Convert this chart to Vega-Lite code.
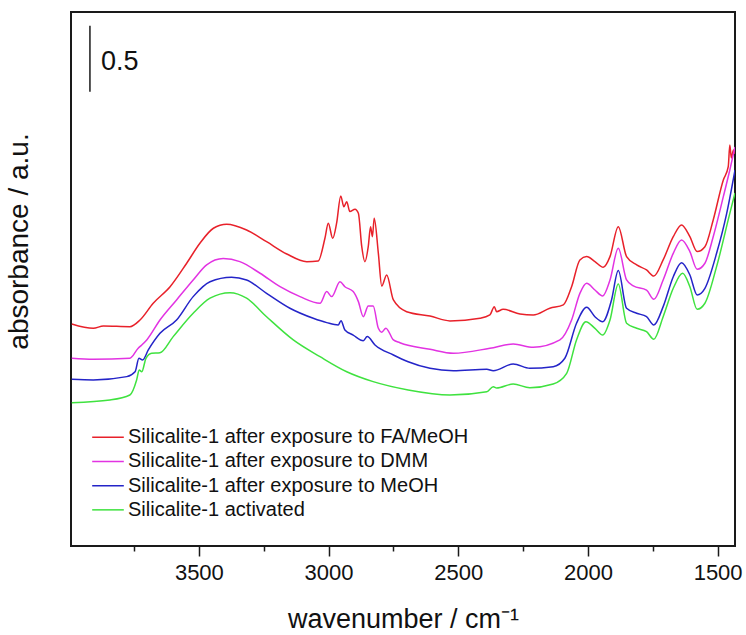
{
  "$schema": "https://vega.github.io/schema/vega-lite/v6.json",
  "width": 664,
  "height": 534,
  "autosize": {"type": "none"},
  "padding": {"left": 71, "top": 12, "right": 11, "bottom": 89},
  "background": "white",
  "config": {
    "view": {"stroke": "#1a1a1a", "strokeWidth": 2},
    "font": "Liberation Sans"
  },
  "datasets": {
    "spectra": [
      {"sample": "Silicalite-1 after exposure to FA/MeOH", "wavenumber": 3990, "absorbance": 1.682},
      {"sample": "Silicalite-1 after exposure to FA/MeOH", "wavenumber": 3907, "absorbance": 1.649},
      {"sample": "Silicalite-1 after exposure to FA/MeOH", "wavenumber": 3868, "absorbance": 1.667},
      {"sample": "Silicalite-1 after exposure to FA/MeOH", "wavenumber": 3766, "absorbance": 1.661},
      {"sample": "Silicalite-1 after exposure to FA/MeOH", "wavenumber": 3727, "absorbance": 1.712},
      {"sample": "Silicalite-1 after exposure to FA/MeOH", "wavenumber": 3676, "absorbance": 1.839},
      {"sample": "Silicalite-1 after exposure to FA/MeOH", "wavenumber": 3611, "absorbance": 1.964},
      {"sample": "Silicalite-1 after exposure to FA/MeOH", "wavenumber": 3547, "absorbance": 2.142},
      {"sample": "Silicalite-1 after exposure to FA/MeOH", "wavenumber": 3496, "absorbance": 2.293},
      {"sample": "Silicalite-1 after exposure to FA/MeOH", "wavenumber": 3444, "absorbance": 2.407},
      {"sample": "Silicalite-1 after exposure to FA/MeOH", "wavenumber": 3393, "absorbance": 2.437},
      {"sample": "Silicalite-1 after exposure to FA/MeOH", "wavenumber": 3316, "absorbance": 2.394},
      {"sample": "Silicalite-1 after exposure to FA/MeOH", "wavenumber": 3239, "absorbance": 2.305},
      {"sample": "Silicalite-1 after exposure to FA/MeOH", "wavenumber": 3161, "absorbance": 2.212},
      {"sample": "Silicalite-1 after exposure to FA/MeOH", "wavenumber": 3084, "absorbance": 2.154},
      {"sample": "Silicalite-1 after exposure to FA/MeOH", "wavenumber": 3040, "absorbance": 2.159},
      {"sample": "Silicalite-1 after exposure to FA/MeOH", "wavenumber": 3014, "absorbance": 2.331},
      {"sample": "Silicalite-1 after exposure to FA/MeOH", "wavenumber": 3001, "absorbance": 2.445},
      {"sample": "Silicalite-1 after exposure to FA/MeOH", "wavenumber": 2984, "absorbance": 2.331},
      {"sample": "Silicalite-1 after exposure to FA/MeOH", "wavenumber": 2969, "absorbance": 2.445},
      {"sample": "Silicalite-1 after exposure to FA/MeOH", "wavenumber": 2953, "absorbance": 2.652},
      {"sample": "Silicalite-1 after exposure to FA/MeOH", "wavenumber": 2941, "absorbance": 2.570},
      {"sample": "Silicalite-1 after exposure to FA/MeOH", "wavenumber": 2930, "absorbance": 2.608},
      {"sample": "Silicalite-1 after exposure to FA/MeOH", "wavenumber": 2918, "absorbance": 2.533},
      {"sample": "Silicalite-1 after exposure to FA/MeOH", "wavenumber": 2898, "absorbance": 2.551},
      {"sample": "Silicalite-1 after exposure to FA/MeOH", "wavenumber": 2885, "absorbance": 2.520},
      {"sample": "Silicalite-1 after exposure to FA/MeOH", "wavenumber": 2872, "absorbance": 2.267},
      {"sample": "Silicalite-1 after exposure to FA/MeOH", "wavenumber": 2860, "absorbance": 2.154},
      {"sample": "Silicalite-1 after exposure to FA/MeOH", "wavenumber": 2847, "absorbance": 2.267},
      {"sample": "Silicalite-1 after exposure to FA/MeOH", "wavenumber": 2838, "absorbance": 2.419},
      {"sample": "Silicalite-1 after exposure to FA/MeOH", "wavenumber": 2831, "absorbance": 2.343},
      {"sample": "Silicalite-1 after exposure to FA/MeOH", "wavenumber": 2824, "absorbance": 2.483},
      {"sample": "Silicalite-1 after exposure to FA/MeOH", "wavenumber": 2808, "absorbance": 2.217},
      {"sample": "Silicalite-1 after exposure to FA/MeOH", "wavenumber": 2795, "absorbance": 1.970},
      {"sample": "Silicalite-1 after exposure to FA/MeOH", "wavenumber": 2776, "absorbance": 2.053},
      {"sample": "Silicalite-1 after exposure to FA/MeOH", "wavenumber": 2750, "absorbance": 1.864},
      {"sample": "Silicalite-1 after exposure to FA/MeOH", "wavenumber": 2699, "absorbance": 1.775},
      {"sample": "Silicalite-1 after exposure to FA/MeOH", "wavenumber": 2609, "absorbance": 1.742},
      {"sample": "Silicalite-1 after exposure to FA/MeOH", "wavenumber": 2532, "absorbance": 1.705},
      {"sample": "Silicalite-1 after exposure to FA/MeOH", "wavenumber": 2416, "absorbance": 1.725},
      {"sample": "Silicalite-1 after exposure to FA/MeOH", "wavenumber": 2378, "absorbance": 1.750},
      {"sample": "Silicalite-1 after exposure to FA/MeOH", "wavenumber": 2361, "absorbance": 1.813},
      {"sample": "Silicalite-1 after exposure to FA/MeOH", "wavenumber": 2352, "absorbance": 1.775},
      {"sample": "Silicalite-1 after exposure to FA/MeOH", "wavenumber": 2327, "absorbance": 1.793},
      {"sample": "Silicalite-1 after exposure to FA/MeOH", "wavenumber": 2262, "absorbance": 1.758},
      {"sample": "Silicalite-1 after exposure to FA/MeOH", "wavenumber": 2211, "absorbance": 1.750},
      {"sample": "Silicalite-1 after exposure to FA/MeOH", "wavenumber": 2147, "absorbance": 1.801},
      {"sample": "Silicalite-1 after exposure to FA/MeOH", "wavenumber": 2095, "absorbance": 1.826},
      {"sample": "Silicalite-1 after exposure to FA/MeOH", "wavenumber": 2063, "absorbance": 1.964},
      {"sample": "Silicalite-1 after exposure to FA/MeOH", "wavenumber": 2031, "absorbance": 2.167},
      {"sample": "Silicalite-1 after exposure to FA/MeOH", "wavenumber": 2005, "absorbance": 2.192},
      {"sample": "Silicalite-1 after exposure to FA/MeOH", "wavenumber": 1973, "absorbance": 2.154},
      {"sample": "Silicalite-1 after exposure to FA/MeOH", "wavenumber": 1941, "absorbance": 2.111},
      {"sample": "Silicalite-1 after exposure to FA/MeOH", "wavenumber": 1915, "absorbance": 2.192},
      {"sample": "Silicalite-1 after exposure to FA/MeOH", "wavenumber": 1883, "absorbance": 2.419},
      {"sample": "Silicalite-1 after exposure to FA/MeOH", "wavenumber": 1851, "absorbance": 2.192},
      {"sample": "Silicalite-1 after exposure to FA/MeOH", "wavenumber": 1812, "absorbance": 2.129},
      {"sample": "Silicalite-1 after exposure to FA/MeOH", "wavenumber": 1774, "absorbance": 2.091},
      {"sample": "Silicalite-1 after exposure to FA/MeOH", "wavenumber": 1746, "absorbance": 2.045},
      {"sample": "Silicalite-1 after exposure to FA/MeOH", "wavenumber": 1710, "absorbance": 2.167},
      {"sample": "Silicalite-1 after exposure to FA/MeOH", "wavenumber": 1671, "absorbance": 2.343},
      {"sample": "Silicalite-1 after exposure to FA/MeOH", "wavenumber": 1639, "absorbance": 2.432},
      {"sample": "Silicalite-1 after exposure to FA/MeOH", "wavenumber": 1607, "absorbance": 2.343},
      {"sample": "Silicalite-1 after exposure to FA/MeOH", "wavenumber": 1579, "absorbance": 2.230},
      {"sample": "Silicalite-1 after exposure to FA/MeOH", "wavenumber": 1549, "absorbance": 2.267},
      {"sample": "Silicalite-1 after exposure to FA/MeOH", "wavenumber": 1517, "absorbance": 2.470},
      {"sample": "Silicalite-1 after exposure to FA/MeOH", "wavenumber": 1478, "absorbance": 2.773},
      {"sample": "Silicalite-1 after exposure to FA/MeOH", "wavenumber": 1459, "absorbance": 2.873},
      {"sample": "Silicalite-1 after exposure to FA/MeOH", "wavenumber": 1453, "absorbance": 3.038},
      {"sample": "Silicalite-1 after exposure to FA/MeOH", "wavenumber": 1447, "absorbance": 2.939},
      {"sample": "Silicalite-1 after exposure to FA/MeOH", "wavenumber": 1439, "absorbance": 3.000},
      {"sample": "Silicalite-1 after exposure to FA/MeOH", "wavenumber": 1433, "absorbance": 2.970},

      {"sample": "Silicalite-1 after exposure to DMM", "wavenumber": 3990, "absorbance": 1.422},
      {"sample": "Silicalite-1 after exposure to DMM", "wavenumber": 3907, "absorbance": 1.414},
      {"sample": "Silicalite-1 after exposure to DMM", "wavenumber": 3766, "absorbance": 1.422},
      {"sample": "Silicalite-1 after exposure to DMM", "wavenumber": 3734, "absorbance": 1.498},
      {"sample": "Silicalite-1 after exposure to DMM", "wavenumber": 3720, "absorbance": 1.523},
      {"sample": "Silicalite-1 after exposure to DMM", "wavenumber": 3701, "absorbance": 1.561},
      {"sample": "Silicalite-1 after exposure to DMM", "wavenumber": 3650, "absorbance": 1.712},
      {"sample": "Silicalite-1 after exposure to DMM", "wavenumber": 3586, "absorbance": 1.864},
      {"sample": "Silicalite-1 after exposure to DMM", "wavenumber": 3522, "absorbance": 2.015},
      {"sample": "Silicalite-1 after exposure to DMM", "wavenumber": 3470, "absorbance": 2.129},
      {"sample": "Silicalite-1 after exposure to DMM", "wavenumber": 3406, "absorbance": 2.177},
      {"sample": "Silicalite-1 after exposure to DMM", "wavenumber": 3342, "absorbance": 2.154},
      {"sample": "Silicalite-1 after exposure to DMM", "wavenumber": 3264, "absorbance": 2.066},
      {"sample": "Silicalite-1 after exposure to DMM", "wavenumber": 3187, "absorbance": 1.964},
      {"sample": "Silicalite-1 after exposure to DMM", "wavenumber": 3110, "absorbance": 1.889},
      {"sample": "Silicalite-1 after exposure to DMM", "wavenumber": 3033, "absorbance": 1.839},
      {"sample": "Silicalite-1 after exposure to DMM", "wavenumber": 3007, "absorbance": 1.927},
      {"sample": "Silicalite-1 after exposure to DMM", "wavenumber": 2988, "absorbance": 1.889},
      {"sample": "Silicalite-1 after exposure to DMM", "wavenumber": 2956, "absorbance": 2.002},
      {"sample": "Silicalite-1 after exposure to DMM", "wavenumber": 2937, "absorbance": 1.964},
      {"sample": "Silicalite-1 after exposure to DMM", "wavenumber": 2905, "absorbance": 1.927},
      {"sample": "Silicalite-1 after exposure to DMM", "wavenumber": 2885, "absorbance": 1.851},
      {"sample": "Silicalite-1 after exposure to DMM", "wavenumber": 2866, "absorbance": 1.737},
      {"sample": "Silicalite-1 after exposure to DMM", "wavenumber": 2847, "absorbance": 1.818},
      {"sample": "Silicalite-1 after exposure to DMM", "wavenumber": 2828, "absorbance": 1.818},
      {"sample": "Silicalite-1 after exposure to DMM", "wavenumber": 2808, "absorbance": 1.649},
      {"sample": "Silicalite-1 after exposure to DMM", "wavenumber": 2795, "absorbance": 1.620},
      {"sample": "Silicalite-1 after exposure to DMM", "wavenumber": 2779, "absorbance": 1.650},
      {"sample": "Silicalite-1 after exposure to DMM", "wavenumber": 2750, "absorbance": 1.561},
      {"sample": "Silicalite-1 after exposure to DMM", "wavenumber": 2725, "absorbance": 1.540},
      {"sample": "Silicalite-1 after exposure to DMM", "wavenumber": 2609, "absorbance": 1.490},
      {"sample": "Silicalite-1 after exposure to DMM", "wavenumber": 2519, "absorbance": 1.460},
      {"sample": "Silicalite-1 after exposure to DMM", "wavenumber": 2378, "absorbance": 1.498},
      {"sample": "Silicalite-1 after exposure to DMM", "wavenumber": 2288, "absorbance": 1.530},
      {"sample": "Silicalite-1 after exposure to DMM", "wavenumber": 2211, "absorbance": 1.505},
      {"sample": "Silicalite-1 after exposure to DMM", "wavenumber": 2108, "absorbance": 1.561},
      {"sample": "Silicalite-1 after exposure to DMM", "wavenumber": 2063, "absorbance": 1.712},
      {"sample": "Silicalite-1 after exposure to DMM", "wavenumber": 2031, "absorbance": 1.914},
      {"sample": "Silicalite-1 after exposure to DMM", "wavenumber": 2005, "absorbance": 1.990},
      {"sample": "Silicalite-1 after exposure to DMM", "wavenumber": 1973, "absorbance": 1.939},
      {"sample": "Silicalite-1 after exposure to DMM", "wavenumber": 1943, "absorbance": 1.894},
      {"sample": "Silicalite-1 after exposure to DMM", "wavenumber": 1915, "absorbance": 2.015},
      {"sample": "Silicalite-1 after exposure to DMM", "wavenumber": 1883, "absorbance": 2.255},
      {"sample": "Silicalite-1 after exposure to DMM", "wavenumber": 1851, "absorbance": 2.015},
      {"sample": "Silicalite-1 after exposure to DMM", "wavenumber": 1825, "absorbance": 1.970},
      {"sample": "Silicalite-1 after exposure to DMM", "wavenumber": 1774, "absorbance": 1.939},
      {"sample": "Silicalite-1 after exposure to DMM", "wavenumber": 1746, "absorbance": 1.869},
      {"sample": "Silicalite-1 after exposure to DMM", "wavenumber": 1710, "absorbance": 2.015},
      {"sample": "Silicalite-1 after exposure to DMM", "wavenumber": 1671, "absorbance": 2.217},
      {"sample": "Silicalite-1 after exposure to DMM", "wavenumber": 1639, "absorbance": 2.318},
      {"sample": "Silicalite-1 after exposure to DMM", "wavenumber": 1607, "absorbance": 2.230},
      {"sample": "Silicalite-1 after exposure to DMM", "wavenumber": 1579, "absorbance": 2.096},
      {"sample": "Silicalite-1 after exposure to DMM", "wavenumber": 1549, "absorbance": 2.142},
      {"sample": "Silicalite-1 after exposure to DMM", "wavenumber": 1517, "absorbance": 2.343},
      {"sample": "Silicalite-1 after exposure to DMM", "wavenumber": 1478, "absorbance": 2.646},
      {"sample": "Silicalite-1 after exposure to DMM", "wavenumber": 1453, "absorbance": 2.848},
      {"sample": "Silicalite-1 after exposure to DMM", "wavenumber": 1433, "absorbance": 3.023},

      {"sample": "Silicalite-1 after exposure to MeOH", "wavenumber": 3990, "absorbance": 1.263},
      {"sample": "Silicalite-1 after exposure to MeOH", "wavenumber": 3907, "absorbance": 1.258},
      {"sample": "Silicalite-1 after exposure to MeOH", "wavenumber": 3778, "absorbance": 1.283},
      {"sample": "Silicalite-1 after exposure to MeOH", "wavenumber": 3746, "absorbance": 1.320},
      {"sample": "Silicalite-1 after exposure to MeOH", "wavenumber": 3731, "absorbance": 1.422},
      {"sample": "Silicalite-1 after exposure to MeOH", "wavenumber": 3717, "absorbance": 1.409},
      {"sample": "Silicalite-1 after exposure to MeOH", "wavenumber": 3695, "absorbance": 1.485},
      {"sample": "Silicalite-1 after exposure to MeOH", "wavenumber": 3650, "absorbance": 1.611},
      {"sample": "Silicalite-1 after exposure to MeOH", "wavenumber": 3586, "absorbance": 1.712},
      {"sample": "Silicalite-1 after exposure to MeOH", "wavenumber": 3522, "absorbance": 1.889},
      {"sample": "Silicalite-1 after exposure to MeOH", "wavenumber": 3457, "absorbance": 2.002},
      {"sample": "Silicalite-1 after exposure to MeOH", "wavenumber": 3374, "absorbance": 2.036},
      {"sample": "Silicalite-1 after exposure to MeOH", "wavenumber": 3316, "absorbance": 2.015},
      {"sample": "Silicalite-1 after exposure to MeOH", "wavenumber": 3239, "absorbance": 1.914},
      {"sample": "Silicalite-1 after exposure to MeOH", "wavenumber": 3149, "absorbance": 1.801},
      {"sample": "Silicalite-1 after exposure to MeOH", "wavenumber": 3059, "absorbance": 1.725},
      {"sample": "Silicalite-1 after exposure to MeOH", "wavenumber": 3007, "absorbance": 1.692},
      {"sample": "Silicalite-1 after exposure to MeOH", "wavenumber": 2963, "absorbance": 1.674},
      {"sample": "Silicalite-1 after exposure to MeOH", "wavenumber": 2952, "absorbance": 1.707},
      {"sample": "Silicalite-1 after exposure to MeOH", "wavenumber": 2937, "absorbance": 1.636},
      {"sample": "Silicalite-1 after exposure to MeOH", "wavenumber": 2905, "absorbance": 1.598},
      {"sample": "Silicalite-1 after exposure to MeOH", "wavenumber": 2866, "absorbance": 1.555},
      {"sample": "Silicalite-1 after exposure to MeOH", "wavenumber": 2851, "absorbance": 1.586},
      {"sample": "Silicalite-1 after exposure to MeOH", "wavenumber": 2821, "absorbance": 1.523},
      {"sample": "Silicalite-1 after exposure to MeOH", "wavenumber": 2750, "absorbance": 1.447},
      {"sample": "Silicalite-1 after exposure to MeOH", "wavenumber": 2693, "absorbance": 1.396},
      {"sample": "Silicalite-1 after exposure to MeOH", "wavenumber": 2609, "absorbance": 1.346},
      {"sample": "Silicalite-1 after exposure to MeOH", "wavenumber": 2519, "absorbance": 1.328},
      {"sample": "Silicalite-1 after exposure to MeOH", "wavenumber": 2390, "absorbance": 1.339},
      {"sample": "Silicalite-1 after exposure to MeOH", "wavenumber": 2365, "absorbance": 1.328},
      {"sample": "Silicalite-1 after exposure to MeOH", "wavenumber": 2288, "absorbance": 1.379},
      {"sample": "Silicalite-1 after exposure to MeOH", "wavenumber": 2224, "absorbance": 1.346},
      {"sample": "Silicalite-1 after exposure to MeOH", "wavenumber": 2134, "absorbance": 1.358},
      {"sample": "Silicalite-1 after exposure to MeOH", "wavenumber": 2089, "absorbance": 1.422},
      {"sample": "Silicalite-1 after exposure to MeOH", "wavenumber": 2044, "absorbance": 1.687},
      {"sample": "Silicalite-1 after exposure to MeOH", "wavenumber": 2005, "absorbance": 1.808},
      {"sample": "Silicalite-1 after exposure to MeOH", "wavenumber": 1973, "absorbance": 1.737},
      {"sample": "Silicalite-1 after exposure to MeOH", "wavenumber": 1943, "absorbance": 1.699},
      {"sample": "Silicalite-1 after exposure to MeOH", "wavenumber": 1909, "absorbance": 1.864},
      {"sample": "Silicalite-1 after exposure to MeOH", "wavenumber": 1883, "absorbance": 2.086},
      {"sample": "Silicalite-1 after exposure to MeOH", "wavenumber": 1851, "absorbance": 1.801},
      {"sample": "Silicalite-1 after exposure to MeOH", "wavenumber": 1812, "absorbance": 1.763},
      {"sample": "Silicalite-1 after exposure to MeOH", "wavenumber": 1774, "absorbance": 1.737},
      {"sample": "Silicalite-1 after exposure to MeOH", "wavenumber": 1746, "absorbance": 1.674},
      {"sample": "Silicalite-1 after exposure to MeOH", "wavenumber": 1710, "absorbance": 1.813},
      {"sample": "Silicalite-1 after exposure to MeOH", "wavenumber": 1671, "absorbance": 2.040},
      {"sample": "Silicalite-1 after exposure to MeOH", "wavenumber": 1639, "absorbance": 2.146},
      {"sample": "Silicalite-1 after exposure to MeOH", "wavenumber": 1607, "absorbance": 2.053},
      {"sample": "Silicalite-1 after exposure to MeOH", "wavenumber": 1579, "absorbance": 1.902},
      {"sample": "Silicalite-1 after exposure to MeOH", "wavenumber": 1549, "absorbance": 1.952},
      {"sample": "Silicalite-1 after exposure to MeOH", "wavenumber": 1504, "absorbance": 2.217},
      {"sample": "Silicalite-1 after exposure to MeOH", "wavenumber": 1465, "absorbance": 2.520},
      {"sample": "Silicalite-1 after exposure to MeOH", "wavenumber": 1433, "absorbance": 2.848},

      {"sample": "Silicalite-1 activated", "wavenumber": 3990, "absorbance": 1.086},
      {"sample": "Silicalite-1 activated", "wavenumber": 3843, "absorbance": 1.106},
      {"sample": "Silicalite-1 activated", "wavenumber": 3766, "absorbance": 1.144},
      {"sample": "Silicalite-1 activated", "wavenumber": 3740, "absorbance": 1.258},
      {"sample": "Silicalite-1 activated", "wavenumber": 3730, "absorbance": 1.333},
      {"sample": "Silicalite-1 activated", "wavenumber": 3720, "absorbance": 1.320},
      {"sample": "Silicalite-1 activated", "wavenumber": 3704, "absorbance": 1.422},
      {"sample": "Silicalite-1 activated", "wavenumber": 3682, "absorbance": 1.460},
      {"sample": "Silicalite-1 activated", "wavenumber": 3650, "absorbance": 1.464},
      {"sample": "Silicalite-1 activated", "wavenumber": 3599, "absorbance": 1.586},
      {"sample": "Silicalite-1 activated", "wavenumber": 3522, "absorbance": 1.763},
      {"sample": "Silicalite-1 activated", "wavenumber": 3457, "absorbance": 1.877},
      {"sample": "Silicalite-1 activated", "wavenumber": 3380, "absorbance": 1.919},
      {"sample": "Silicalite-1 activated", "wavenumber": 3316, "absorbance": 1.877},
      {"sample": "Silicalite-1 activated", "wavenumber": 3239, "absorbance": 1.737},
      {"sample": "Silicalite-1 activated", "wavenumber": 3136, "absorbance": 1.561},
      {"sample": "Silicalite-1 activated", "wavenumber": 3033, "absorbance": 1.434},
      {"sample": "Silicalite-1 activated", "wavenumber": 2930, "absorbance": 1.320},
      {"sample": "Silicalite-1 activated", "wavenumber": 2828, "absorbance": 1.245},
      {"sample": "Silicalite-1 activated", "wavenumber": 2693, "absorbance": 1.182},
      {"sample": "Silicalite-1 activated", "wavenumber": 2532, "absorbance": 1.144},
      {"sample": "Silicalite-1 activated", "wavenumber": 2390, "absorbance": 1.169},
      {"sample": "Silicalite-1 activated", "wavenumber": 2365, "absorbance": 1.207},
      {"sample": "Silicalite-1 activated", "wavenumber": 2352, "absorbance": 1.197},
      {"sample": "Silicalite-1 activated", "wavenumber": 2288, "absorbance": 1.227},
      {"sample": "Silicalite-1 activated", "wavenumber": 2224, "absorbance": 1.199},
      {"sample": "Silicalite-1 activated", "wavenumber": 2134, "absorbance": 1.227},
      {"sample": "Silicalite-1 activated", "wavenumber": 2082, "absorbance": 1.308},
      {"sample": "Silicalite-1 activated", "wavenumber": 2044, "absorbance": 1.561},
      {"sample": "Silicalite-1 activated", "wavenumber": 2008, "absorbance": 1.699},
      {"sample": "Silicalite-1 activated", "wavenumber": 1973, "absorbance": 1.649},
      {"sample": "Silicalite-1 activated", "wavenumber": 1943, "absorbance": 1.598},
      {"sample": "Silicalite-1 activated", "wavenumber": 1915, "absorbance": 1.712},
      {"sample": "Silicalite-1 activated", "wavenumber": 1883, "absorbance": 1.985},
      {"sample": "Silicalite-1 activated", "wavenumber": 1851, "absorbance": 1.687},
      {"sample": "Silicalite-1 activated", "wavenumber": 1812, "absorbance": 1.649},
      {"sample": "Silicalite-1 activated", "wavenumber": 1774, "absorbance": 1.623},
      {"sample": "Silicalite-1 activated", "wavenumber": 1746, "absorbance": 1.566},
      {"sample": "Silicalite-1 activated", "wavenumber": 1710, "absorbance": 1.737},
      {"sample": "Silicalite-1 activated", "wavenumber": 1671, "absorbance": 1.952},
      {"sample": "Silicalite-1 activated", "wavenumber": 1635, "absorbance": 2.066},
      {"sample": "Silicalite-1 activated", "wavenumber": 1607, "absorbance": 1.964},
      {"sample": "Silicalite-1 activated", "wavenumber": 1579, "absorbance": 1.793},
      {"sample": "Silicalite-1 activated", "wavenumber": 1549, "absorbance": 1.839},
      {"sample": "Silicalite-1 activated", "wavenumber": 1504, "absorbance": 2.116},
      {"sample": "Silicalite-1 activated", "wavenumber": 1453, "absorbance": 2.520},
      {"sample": "Silicalite-1 activated", "wavenumber": 1433, "absorbance": 2.674}
    ]
  },
  "layer": [
    {
      "data": {"name": "spectra"},
      "mark": {"type": "line", "strokeWidth": 1.5, "clip": true, "interpolate": "monotone"},
      "encoding": {
        "x": {
          "field": "wavenumber",
          "type": "quantitative",
          "scale": {"domain": [1433, 3993], "reverse": true, "nice": false, "zero": false},
          "axis": {
            "title": "wavenumber / cm⁻¹",
            "titleFontSize": 27,
            "titleFontWeight": "normal",
            "titleFont": "Liberation Sans",
            "titleColor": "#111111",
            "titleBaseline": "alphabetic",
            "titleY": 81,
            "values": [3750, 3500, 3250, 3000, 2750, 2500, 2250, 2000, 1750, 1500],
            "format": "d",
            "labelExpr": "datum.value % 500 === 0 ? datum.label : ''",
            "tickSize": {"condition": {"test": "datum.value % 500 === 0", "value": 10}, "value": 5},
            "tickWidth": 1.5,
            "tickColor": "#1a1a1a",
            "labelFontSize": 22,
            "labelFont": "Liberation Sans",
            "labelColor": "#111111",
            "labelPadding": 6,
            "labelFlush": false,
            "domain": false,
            "grid": false
          }
        },
        "y": {
          "field": "absorbance",
          "type": "quantitative",
          "scale": {"domain": [0, 4.045], "nice": false, "zero": false},
          "axis": {
            "title": "absorbance / a.u.",
            "titleFontSize": 28,
            "titleFontWeight": "normal",
            "titleFont": "Liberation Sans",
            "titleColor": "#111111",
            "titleAngle": -90,
            "titleAlign": "center",
            "titleBaseline": "alphabetic",
            "titleX": -44,
            "titleY": 229,
            "labels": false,
            "ticks": false,
            "domain": false,
            "grid": false
          }
        },
        "color": {
          "field": "sample",
          "type": "nominal",
          "scale": {
            "domain": [
              "Silicalite-1 after exposure to FA/MeOH",
              "Silicalite-1 after exposure to DMM",
              "Silicalite-1 after exposure to MeOH",
              "Silicalite-1 activated"
            ],
            "range": ["#e8212a", "#e233e2", "#2424c8", "#3fe23f"]
          },
          "legend": {
            "orient": "none",
            "legendX": 20,
            "legendY": 415,
            "title": null,
            "padding": 0,
            "symbolType": "stroke",
            "symbolSize": 1000,
            "symbolStrokeWidth": 1.5,
            "clipHeight": 20.5,
            "labelFontSize": 20,
            "labelFont": "Liberation Sans",
            "labelColor": "#111111",
            "labelOffset": 3,
            "labelLimit": 0,
            "rowPadding": 3.2
          }
        }
      }
    },
    {
      "data": {"values": [{}]},
      "mark": {"type": "rule", "color": "#1a1a1a", "strokeWidth": 1.5},
      "encoding": {
        "x": {"datum": 3920, "type": "quantitative"},
        "y": {"datum": 3.44, "type": "quantitative"},
        "y2": {"datum": 3.94}
      }
    },
    {
      "data": {"values": [{}]},
      "mark": {"type": "text", "text": "0.5", "align": "left", "baseline": "middle", "fontSize": 27, "font": "Liberation Sans", "color": "#111111"},
      "encoding": {
        "x": {"datum": 3877, "type": "quantitative"},
        "y": {"datum": 3.667, "type": "quantitative"}
      }
    }
  ]
}
